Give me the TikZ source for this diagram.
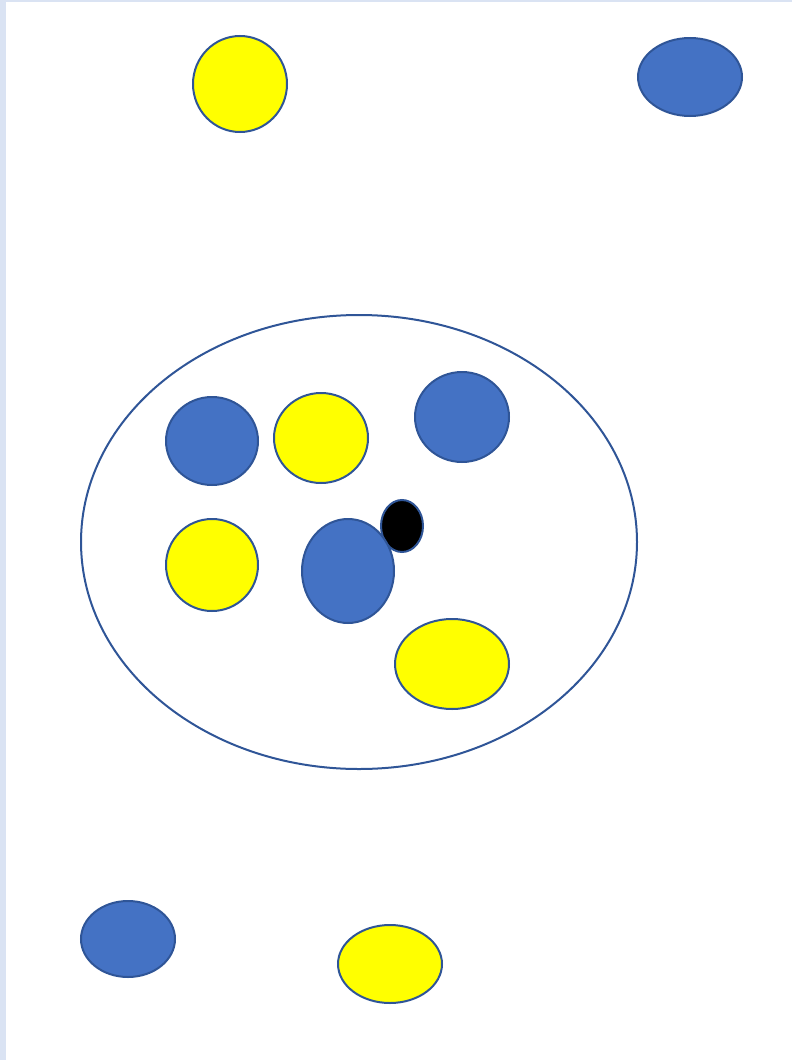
\documentclass[tikz,border=0pt]{standalone}
\usepackage{tikz}
\usetikzlibrary{shapes.geometric}
\definecolor{dotblue}{RGB}{68,114,196}
\definecolor{rimblue}{RGB}{47,85,151}
\definecolor{dotyellow}{RGB}{255,255,0}
\definecolor{stripblue}{RGB}{218,227,243}

\begin{document}
\begin{tikzpicture}[
    x=1pt, y=-1pt,
    dot/.style={ellipse, draw=rimblue, line width=2pt, inner sep=0pt},
    bluedot/.style={dot, fill=dotblue},
    yellowdot/.style={dot, fill=dotyellow},
    set/.style={ellipse, draw=rimblue, line width=2pt, inner sep=0pt,
                minimum width=556pt, minimum height=454pt}
]
    % page and the light strips at its edges
    \useasboundingbox (0,0) rectangle (792,1060);
    \fill[stripblue] (0,0) rectangle (6,1060);
    \fill[stripblue] (0,0) rectangle (792,1.5);

    % the big set
    \node[set] (setall) at (359,542) {};

    % inside the set
    \node[bluedot, minimum width=92pt, minimum height=88pt] (bin1) at (212,441) {};
    \node[yellowdot, minimum width=94pt, minimum height=90pt] (yin1) at (321,438) {};
    \node[bluedot, minimum width=94pt, minimum height=90pt] (bin2) at (462,417) {};
    \node[dot, fill=black, minimum width=42pt, minimum height=52pt] (core) at (402,526) {};
    \node[yellowdot, minimum width=92pt, minimum height=92pt] (yin2) at (212,565) {};
    \node[bluedot, minimum width=92pt, minimum height=104pt] (bin3) at (348,571) {};
    \node[yellowdot, minimum width=114pt, minimum height=90pt] (yin3) at (452,664) {};

    % outside the set
    \node[yellowdot, minimum width=94pt, minimum height=96pt] (yout1) at (240,84) {};
    \node[bluedot, minimum width=104pt, minimum height=78pt] (bout1) at (690,77) {};
    \node[bluedot, minimum width=94pt, minimum height=76pt] (bout2) at (128,939) {};
    \node[yellowdot, minimum width=104pt, minimum height=78pt] (yout2) at (390,964) {};
\end{tikzpicture}
\end{document}
